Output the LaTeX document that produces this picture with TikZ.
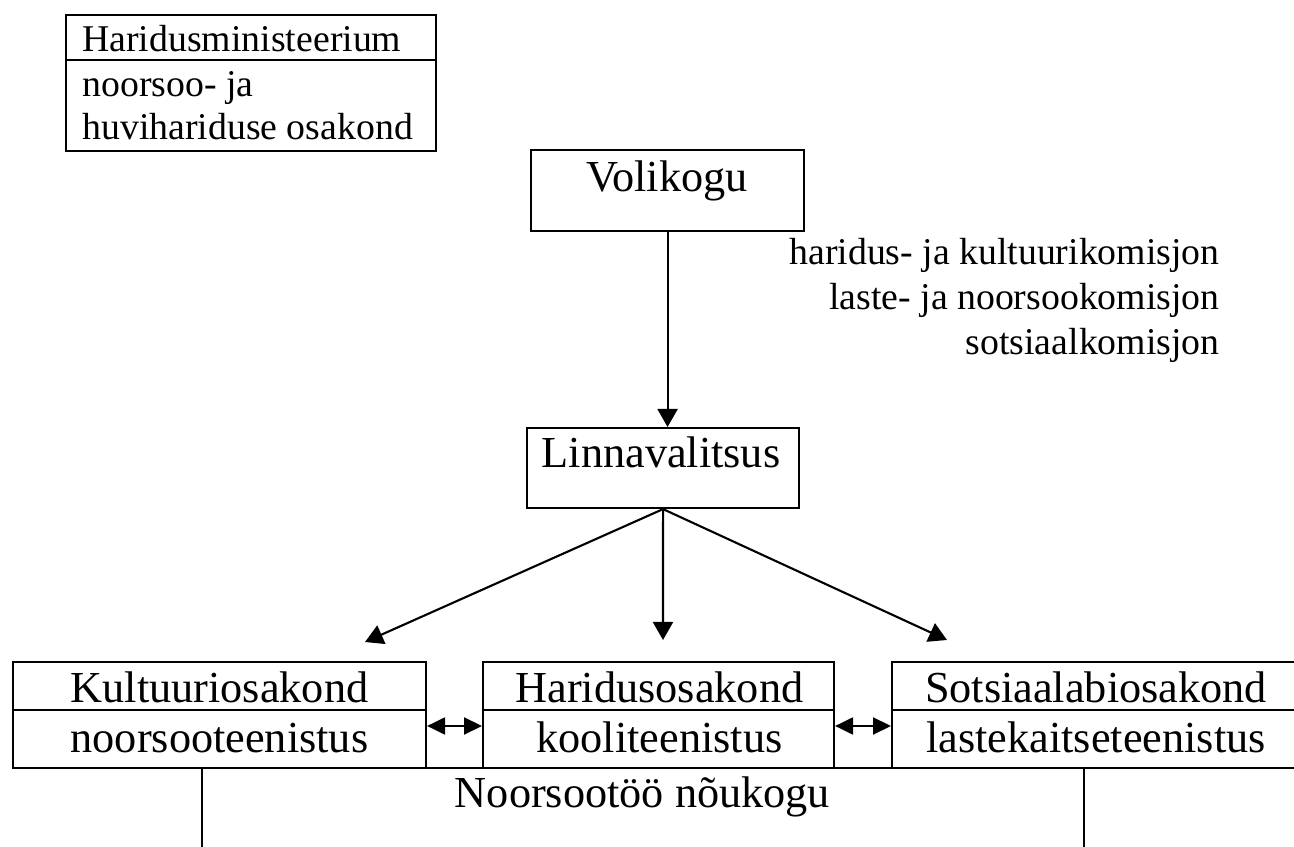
\documentclass[tikz,border=0pt]{standalone}
\usepackage{fontspec}
\setmainfont{Liberation Serif}
\usetikzlibrary{arrows.meta}

\begin{document}
\begin{tikzpicture}[
    box/.style={draw,line width=1.2pt,inner sep=0pt,anchor=north west},
    big/.style={font=\fontsize{25.2}{30}\selectfont,inner sep=0pt},
    small/.style={font=\fontsize{21.5}{26}\selectfont,inner sep=0pt},
    arr/.style={line width=1.2pt,-{Triangle[length=3.6mm,width=4mm]}},
    dbl/.style={line width=1.2pt,{Triangle[length=3.6mm,width=3.4mm]}-{Triangle[length=3.6mm,width=3.4mm]}}
  ]
    \useasboundingbox (0,0) rectangle (25.88,16.94);

    % ministry
    \node[box,minimum width=7.4cm,minimum height=2.72cm] (min) at (1.3,16.66) {};
    \draw[line width=1.2pt] (min.west |- 0,15.74) -- (min.east |- 0,15.74);
    \node[small,anchor=base west] (minA) at (1.64,15.9) {Haridusministeerium};
    \node[small,anchor=base west] (minB) at (1.64,15.0) {noorsoo- ja};
    \node[small,anchor=base west] (minC) at (1.64,14.14) {huvihariduse osakond};

    % council
    \node[box,minimum width=5.46cm,minimum height=1.62cm] (voli) at (10.6,13.96) {};
    \node[big,anchor=base] (voliT) at (13.34,13.1) {Volikogu};

    % committees
    \node[small,anchor=base east] (komA) at (24.4,11.64) {haridus- ja kultuurikomisjon};
    \node[small,anchor=base east] (komB) at (24.4,10.74) {laste- ja noorsookomisjon};
    \node[small,anchor=base east] (komC) at (24.4,9.84) {sotsiaalkomisjon};

    % city government
    \node[box,minimum width=5.44cm,minimum height=1.6cm] (linna) at (10.52,8.4) {};
    \node[big,anchor=base] (linnaT) at (13.22,7.58) {Linnavalitsus};
    \draw[arr] (voli.south) -- (voli.south |- linna.north);

    % departments
    \node[box,minimum width=8.26cm,minimum height=2.12cm] (kult) at (0.24,3.72) {};
    \node[box,minimum width=7.02cm,minimum height=2.12cm] (hari) at (9.64,3.72) {};
    \node[box,minimum width=8.3cm,minimum height=2.12cm] (sots) at (17.82,3.72) {};
    \draw[line width=1.2pt] (kult.west |- 0,2.74) -- (kult.east |- 0,2.74);
    \draw[line width=1.2pt] (hari.west |- 0,2.74) -- (hari.east |- 0,2.74);
    \draw[line width=1.2pt] (sots.west |- 0,2.74) -- (sots.east |- 0,2.74);

    \node[big,anchor=base] (kultA) at (4.39,2.88) {Kultuuriosakond};
    \node[big,anchor=base] (kultB) at (4.39,1.88) {noorsooteenistus};
    \node[big,anchor=base] (hariA) at (13.19,2.88) {Haridusosakond};
    \node[big,anchor=base] (hariB) at (13.19,1.88) {kooliteenistus};
    \node[big,anchor=base] (sotsA) at (21.92,2.88) {Sotsiaalabiosakond};
    \node[big,anchor=base] (sotsB) at (21.92,1.88) {lastekaitseteenistus};

    % arrows down to departments
    \coordinate (tipK) at (7.3,4.1);
    \coordinate (tipH) at (13.26,4.14);
    \coordinate (tipS) at (18.94,4.14);
    \draw[arr] (linna.south) -- (tipK);
    \draw[arr] (linna.south) -- (tipH);
    \draw[arr] (linna.south) -- (tipS);

    % between departments
    \draw[dbl] (kult.east |- 0,2.42) -- (hari.west |- 0,2.42);
    \draw[dbl] (hari.east |- 0,2.42) -- (sots.west |- 0,2.42);

    % youth work council
    \node[box,minimum width=17.64cm,minimum height=1.6cm] (nou) at (4.02,1.6) {};
    \node[big,anchor=base] (nouT) at (12.85,0.78) {Noorsootöö nõukogu};

\end{tikzpicture}
\end{document}
